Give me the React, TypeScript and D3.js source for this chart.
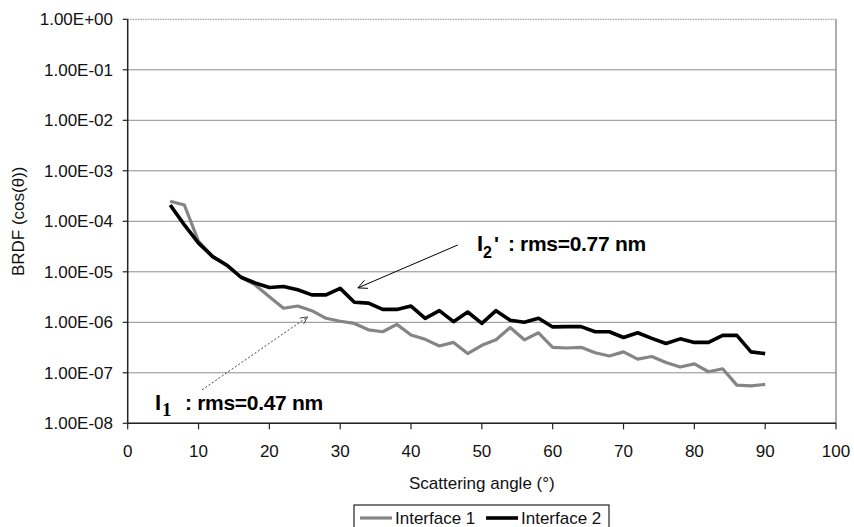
import React from "react";
import * as d3 from "d3";

const angles = [6,8,10,12,14,16,18,20,22,24,26,28,30,32,34,36,38,40,42,44,46,48,50,52,54,56,58,60,62,64,66,68,70,72,74,76,78,80,82,84,86,88,90];
const interface1 = [2.5e-4,2.1e-4,4.0e-5,2.0e-5,1.35e-5,7.8e-6,5.5e-6,3.2e-6,1.9e-6,2.1e-6,1.7e-6,1.2e-6,1.05e-6,9.5e-7,7.1e-7,6.5e-7,9.1e-7,5.6e-7,4.6e-7,3.4e-7,4.0e-7,2.4e-7,3.5e-7,4.5e-7,7.9e-7,4.5e-7,6.2e-7,3.2e-7,3.1e-7,3.2e-7,2.5e-7,2.15e-7,2.6e-7,1.86e-7,2.1e-7,1.6e-7,1.3e-7,1.5e-7,1.05e-7,1.2e-7,5.7e-8,5.5e-8,5.9e-8];
const interface2 = [2.1e-4,8.5e-5,3.7e-5,2.0e-5,1.35e-5,7.8e-6,6.0e-6,4.9e-6,5.1e-6,4.4e-6,3.5e-6,3.5e-6,4.7e-6,2.5e-6,2.4e-6,1.8e-6,1.8e-6,2.1e-6,1.2e-6,1.7e-6,1.03e-6,1.6e-6,9.5e-7,1.7e-6,1.1e-6,1.0e-6,1.2e-6,8.1e-7,8.2e-7,8.2e-7,6.5e-7,6.5e-7,5.0e-7,6.2e-7,4.8e-7,3.8e-7,4.7e-7,4.0e-7,4.0e-7,5.5e-7,5.5e-7,2.6e-7,2.4e-7];
const xTicks = [0,10,20,30,40,50,60,70,80,90,100];
const yTicks = [1,1e-1,1e-2,1e-3,1e-4,1e-5,1e-6,1e-7,1e-8];
const yTickLabels = ["1.00E+00","1.00E-01","1.00E-02","1.00E-03","1.00E-04","1.00E-05","1.00E-06","1.00E-07","1.00E-08"];
const seriesNames = ["Interface 1", "Interface 2"];
// annotation anchors in data space: [angle, value]
const anno2Text: [number, number] = [49.3, 2.58e-5];
const anno2Arrow: [[number, number], [number, number]] = [[46.6, 3.4e-5], [32.5, 4.8e-6]];
const anno1Text: [number, number] = [3.85, 1.84e-8];
const anno1Arrow: [[number, number], [number, number]] = [[10.5, 4.6e-8], [25.4, 1.28e-6]];

const W = 854, H = 527;
const left = 127.7, right = 836, top = 19.3, bottom = 423.3;
const FONT = "'Liberation Sans', Arial, Helvetica, sans-serif";
const SERIF = "'Liberation Serif', 'Times New Roman', serif";

export default function App() {
  const x = d3.scaleLinear().domain([0, 100]).range([left, right]);
  const y = d3.scaleLog().domain([1e-8, 1]).range([bottom, top]);
  const line = d3.line<[number, number]>().x(d => x(d[0])).y(d => y(d[1]));
  const d1 = line(angles.map((a, i) => [a, interface1[i]] as [number, number])) || "";
  const d2 = line(angles.map((a, i) => [a, interface2[i]] as [number, number])) || "";

  const arrowHead = (p0: [number, number], p1: [number, number], len = 10, ang = 0.45) => {
    const x0 = x(p0[0]), y0 = y(p0[1]), x1 = x(p1[0]), y1 = y(p1[1]);
    const t = Math.atan2(y1 - y0, x1 - x0);
    const a1 = t + Math.PI - ang, a2 = t + Math.PI + ang;
    return `M${x1 + len * Math.cos(a1)},${y1 + len * Math.sin(a1)} L${x1},${y1} L${x1 + len * Math.cos(a2)},${y1 + len * Math.sin(a2)}`;
  };

  const legendTop = 505, legendLeft = 354, legendRight = 609;
  const legendY = 518;
  const a2x = x(anno2Text[0]), a2y = y(anno2Text[1]);
  const a1x = x(anno1Text[0]), a1y = y(anno1Text[1]);

  return (
    <svg width={W} height={H} style={{ position: "absolute", left: 0, top: 0, background: "#fff" }} fontFamily={FONT}>
      <rect x={0} y={0} width={W} height={H} fill="#fff" />
      {/* gridlines */}
      {yTicks.map((t, i) => (
        <line key={"g" + i} x1={left} x2={right} y1={y(t)} y2={y(t)} stroke="#8c8c8c" strokeWidth={1}
          strokeDasharray={i === 0 ? "1.5,1" : undefined} />
      ))}
      {/* right border */}
      <line x1={right} x2={right} y1={top} y2={bottom} stroke="#777" strokeWidth={1.2} />
      {/* axes */}
      <line x1={left} x2={left} y1={top} y2={bottom} stroke="#222" strokeWidth={1.5} />
      <line x1={left} x2={right} y1={bottom} y2={bottom} stroke="#222" strokeWidth={1.5} />
      {yTicks.map((t, i) => (
        <g key={"yt" + i}>
          <line x1={left - 5} x2={left} y1={y(t)} y2={y(t)} stroke="#222" strokeWidth={1.2} />
          <text x={113} y={y(t)} dy="0.36em" textAnchor="end" fontSize={17} fill="#111">{yTickLabels[i]}</text>
        </g>
      ))}
      {xTicks.map((t, i) => (
        <g key={"xt" + i}>
          <line x1={x(t)} x2={x(t)} y1={bottom} y2={bottom + 6} stroke="#222" strokeWidth={1.2} />
          <text x={x(t)} y={457} textAnchor="middle" fontSize={17} fill="#111">{t}</text>
        </g>
      ))}
      <text x={(left + right) / 2} y={489} textAnchor="middle" fontSize={17} fill="#111">Scattering angle (°)</text>
      <text transform={`translate(24,${(top + bottom) / 2}) rotate(-90)`} textAnchor="middle" fontSize={17} fill="#111">BRDF (cos(θ))</text>

      {/* series */}
      <path d={d1} fill="none" stroke="#858585" strokeWidth={3.2} strokeLinejoin="round" />
      <path d={d2} fill="none" stroke="#000" strokeWidth={3.6} strokeLinejoin="round" />

      {/* annotation 2 */}
      <line x1={x(anno2Arrow[0][0])} y1={y(anno2Arrow[0][1])} x2={x(anno2Arrow[1][0])} y2={y(anno2Arrow[1][1])} stroke="#000" strokeWidth={1} />
      <path d={arrowHead(anno2Arrow[0], anno2Arrow[1])} fill="none" stroke="#000" strokeWidth={1} />
      <g fontWeight="bold" fill="#000">
        <text x={a2x} y={a2y} fontSize={22}>I</text>
        <text x={a2x + 6} y={a2y + 7} fontSize={16}>2</text>
        <text x={a2x + 17} y={a2y} fontSize={21}>'</text>
        <text x={a2x + 31} y={a2y} fontSize={21} letterSpacing={-0.3}>: rms=0.77 nm</text>
      </g>

      {/* annotation 1 */}
      <line x1={x(anno1Arrow[0][0])} y1={y(anno1Arrow[0][1])} x2={x(anno1Arrow[1][0])} y2={y(anno1Arrow[1][1])} stroke="#444" strokeWidth={1} strokeDasharray="2,2" />
      <path d={arrowHead(anno1Arrow[0], anno1Arrow[1], 8)} fill="none" stroke="#444" strokeWidth={1} />
      <g fontWeight="bold" fill="#000">
        <text x={a1x} y={a1y} fontSize={22}>I</text>
        <text x={a1x + 7} y={a1y + 6} fontSize={19} fontFamily={SERIF}>1</text>
        <text x={a1x + 30} y={a1y} fontSize={21} letterSpacing={-0.3}>: rms=0.47 nm</text>
      </g>

      {/* legend */}
      <rect x={legendLeft} y={legendTop} width={legendRight - legendLeft} height={H - legendTop + 5} fill="#fff" stroke="#222" strokeWidth={1.2} />
      <line x1={360} x2={392} y1={legendY} y2={legendY} stroke="#858585" strokeWidth={3.2} />
      <text x={395} y={legendY} dy="0.36em" fontSize={17} fill="#111">{seriesNames[0]}</text>
      <line x1={486} x2={518} y1={legendY} y2={legendY} stroke="#000" strokeWidth={3.6} />
      <text x={521} y={legendY} dy="0.36em" fontSize={17} fill="#111">{seriesNames[1]}</text>
    </svg>
  );
}
